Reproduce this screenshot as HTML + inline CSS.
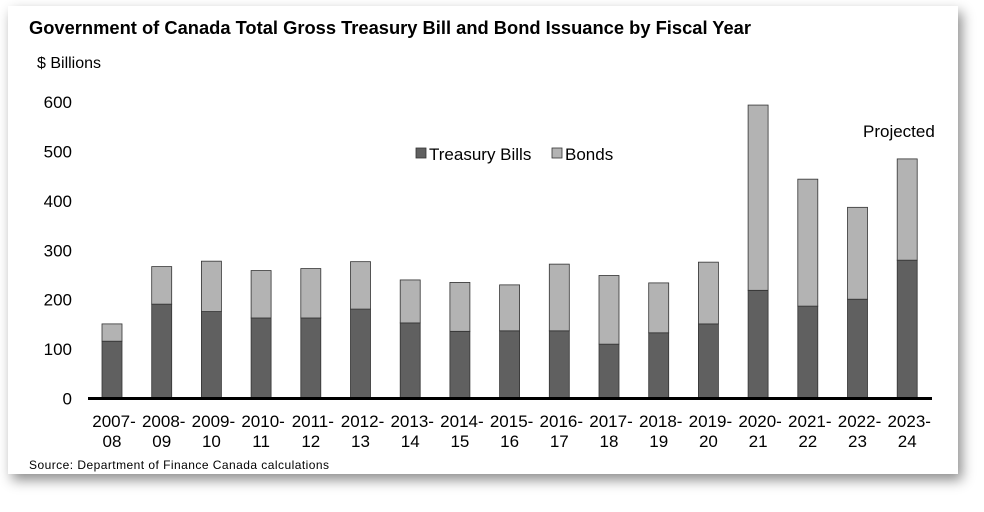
<!DOCTYPE html>
<html><head><meta charset="utf-8"><style>
body{margin:0;background:#fff;width:984px;height:512px;overflow:hidden;font-family:"Liberation Sans",sans-serif}
#card{position:absolute;left:8px;top:6px;width:950px;height:468px;background:#fff;box-shadow:4px 6px 12px rgba(0,0,0,0.45)}
</style></head><body>
<div id="card"></div>
<svg id="chart" width="984" height="512" style="position:absolute;left:0;top:0">
<text x="29" y="34" font-size="18" font-weight="bold" fill="#000" textLength="722" lengthAdjust="spacingAndGlyphs">Government of Canada Total Gross Treasury Bill and Bond Issuance by Fiscal Year</text>
<text x="37" y="68" font-size="16" fill="#000">$ Billions</text>
<g id="yticks"></g>
<g id="bars"></g>
<g id="xticks"></g>
<line x1="88" y1="398.5" x2="932" y2="398.5" stroke="#000" stroke-width="3"/>
<g>
<rect x="416" y="148" width="10" height="10" fill="#606060" stroke="#333" stroke-width="0.8"/>
<text x="429" y="160" font-size="17">Treasury Bills</text>
<rect x="552" y="148" width="10" height="10" fill="#b3b3b3" stroke="#333" stroke-width="0.8"/>
<text x="565" y="160" font-size="17">Bonds</text>
</g>
<text x="863" y="137" font-size="17">Projected</text>
<text x="29" y="469" font-size="12" fill="#000" textLength="300">Source: Department of Finance Canada calculations</text>
</svg>
<script>
const categories=["2007-|08","2008-|09","2009-|10","2010-|11","2011-|12","2012-|13","2013-|14","2014-|15","2015-|16","2016-|17","2017-|18","2018-|19","2019-|20","2020-|21","2021-|22","2022-|23","2023-|24"];
const treasuryBills=[116,191,176,163,163,181,153,136,137,137,110,133,151,219,187,201,280];
const totals=[151,267,278,259,263,277,240,235,230,272,249,234,276,594,444,387,485];
const yTicks=[0,100,200,300,400,500,600];
const NS="http://www.w3.org/2000/svg";
function y(v){return 398.5-v*0.494;}
function x(i){return 112+i*49.7;}
const bw=20;
const yt=document.getElementById('yticks');
yTicks.forEach(t=>{const e=document.createElementNS(NS,'text');e.setAttribute('x',72);e.setAttribute('y',y(t)+6);e.setAttribute('text-anchor','end');e.setAttribute('font-size','17');e.textContent=t;


yt.appendChild(e);});
const bg=document.getElementById('bars'),xt=document.getElementById('xticks');
categories.forEach((c,i)=>{
 const tb=treasuryBills[i],bo=totals[i]-tb;
 const r1=document.createElementNS(NS,'rect');r1.setAttribute('x',x(i)-bw/2);r1.setAttribute('y',y(tb));r1.setAttribute('width',bw);r1.setAttribute('height',y(0)-y(tb));r1.setAttribute('fill','#606060');r1.setAttribute('stroke','#333');r1.setAttribute('stroke-width','0.8');
 
 
 bg.appendChild(r1);
 const r2=document.createElementNS(NS,'rect');r2.setAttribute('x',x(i)-bw/2);r2.setAttribute('y',y(tb+bo));r2.setAttribute('width',bw);r2.setAttribute('height',y(tb)-y(tb+bo));r2.setAttribute('fill','#b3b3b3');r2.setAttribute('stroke','#333');r2.setAttribute('stroke-width','0.8');
 
 
 bg.appendChild(r2);
 const parts=c.split('|');
 parts.forEach((p,k)=>{const t=document.createElementNS(NS,'text');t.setAttribute('x',x(i)+(k===0?2:0));t.setAttribute('y',427+k*20);t.setAttribute('text-anchor','middle');t.setAttribute('font-size','17');t.textContent=p;
 
 
 xt.appendChild(t);});
});
</script>
</body></html>
